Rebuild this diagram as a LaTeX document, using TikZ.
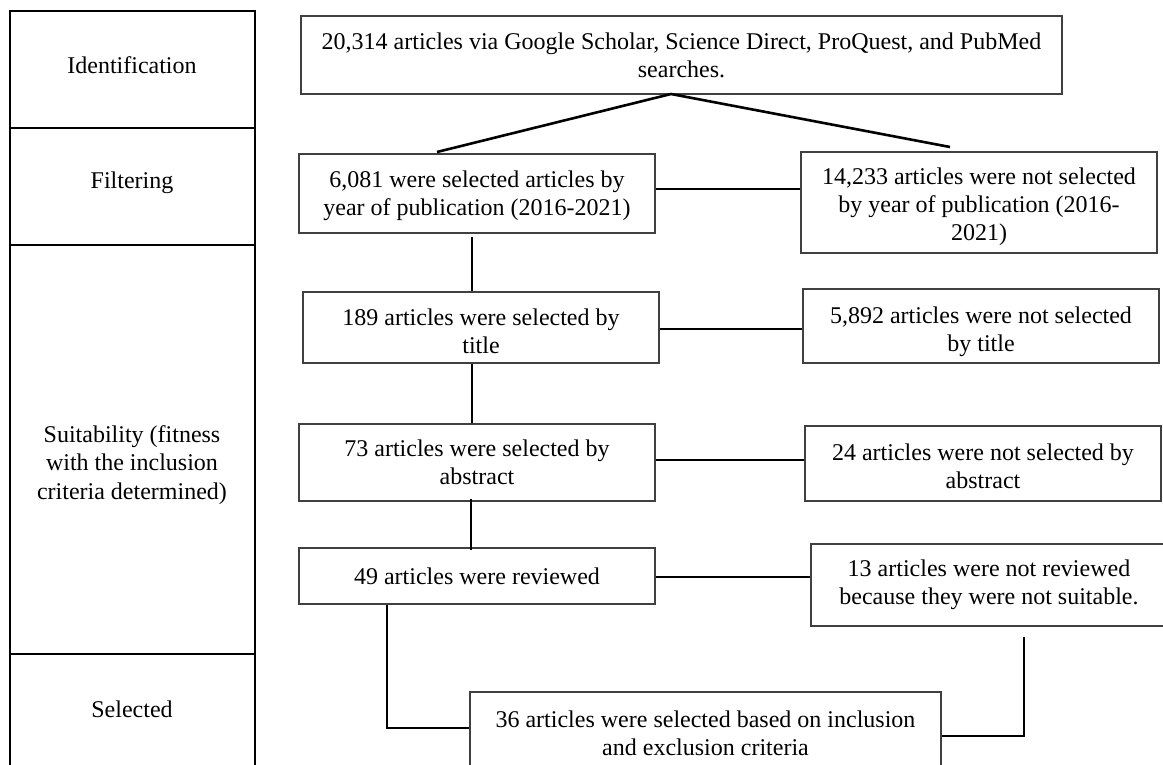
\documentclass[tikz,border=0pt]{standalone}
\usepackage{fontspec}
\setmainfont{Liberation Serif}
\begin{document}
\begin{tikzpicture}[x=1pt,y=-1pt,
  box/.style={draw=black!75, line width=1.3pt, align=center, inner sep=0pt,
    font=\fontsize{24}{28}\selectfont, minimum width=356pt},
  conn/.style={line width=2.6pt, black},
  lab/.style={align=center, inner sep=0pt, font=\fontsize{24}{28.5}\selectfont},
  boxtext/.style={align=center, inner sep=0pt, font=\fontsize{24}{28}\selectfont},
  colline/.style={line width=2.3pt, black}]
\useasboundingbox (0,0) rectangle (1163,765);
\clip (0,0) rectangle (1163,765);
\fill[white] (0,0) rectangle (1163,765);

% left column
\draw[colline] (10,775) -- (10,11) -- (255,11) -- (255,775);
\draw[colline] (10,128) -- (255,128);
\draw[colline] (10,245) -- (255,245);
\draw[colline] (10,654) -- (255,654);
\node[lab] (lid) at (132,65) {Identification};
\node[lab] (lfi) at (132,183) {Filtering};
\node[lab] (lsu) at (132,465) {Suitability (fitness\\with the inclusion\\criteria determined)};
\node[lab] (lse) at (132,709) {Selected};

% boxes
\node[box, minimum width=761pt, minimum height=78pt] (top) at (681.5,55)
  {20,314 articles via Google Scholar, Science Direct, ProQuest, and PubMed\\searches.};
\node[box, minimum height=79pt] (b6081) at (477,193.5) {};
\node[boxtext] (b6081t) at (477,196)
  {6,081 were selected articles by\\year of publication (2016-2021)};
\node[box, minimum height=101pt] (r14233) at (979,202.5) {};
\node[boxtext] (r14233t) at (979,207)
  {14,233 articles were not selected\\by year of publication (2016-\\2021)};
\node[box, minimum height=71pt] (b189) at (481,327.5) {};
\node[boxtext] (b189t) at (481,331)
  {189 articles were selected by\\title};
\node[box, minimum height=74pt] (r5892) at (981,326) {};
\node[boxtext] (r5892t) at (981,331.5)
  {5,892 articles were not selected\\by title};
\node[box, minimum height=77pt] (b73) at (477,462.5)
  {73 articles were selected by\\abstract};
\node[box, minimum height=75pt] (r24) at (983,463.5) {};
\node[boxtext] (r24t) at (983,466.5)
  {24 articles were not selected by\\abstract};
\node[box, minimum height=56pt] (b49) at (477,576)
  {49 articles were reviewed};
\node[box, minimum height=82pt] (r13) at (989,585)
  {13 articles were not reviewed\\because they were not suitable.};
\node[box, minimum width=471pt, minimum height=83pt] (b36) at (705.5,733.5)
  {36 articles were selected based on inclusion\\and exclusion criteria};

% connectors
\coordinate (apex) at (671,94);
\coordinate (endl) at (437,152);
\coordinate (endr) at (950,147);
\draw[conn] (endl) -- (apex) -- (endr);
\draw[conn] (b6081.east |- 0,189) -- (r14233.west |- 0,189);
\draw[conn] (472,237) -- (b189.north -| 472,0);
\draw[conn] (b189.east |- 0,329) -- (r5892.west |- 0,329);
\draw[conn] (b189.south -| 472,0) -- (b73.north -| 472,0);
\draw[conn] (b73.east |- 0,460) -- (r24.west |- 0,460);
\draw[conn] (471,499) -- (471,550);
\draw[conn] (b49.east |- 0,577) -- (r13.west |- 0,577);
\draw[conn] (b49.south -| 387,0) -- (387,728) -- (b36.west |- 0,728);
\draw[conn] (1024,637) -- (1024,736) -- (b36.east |- 0,736);
\end{tikzpicture}
\end{document}
